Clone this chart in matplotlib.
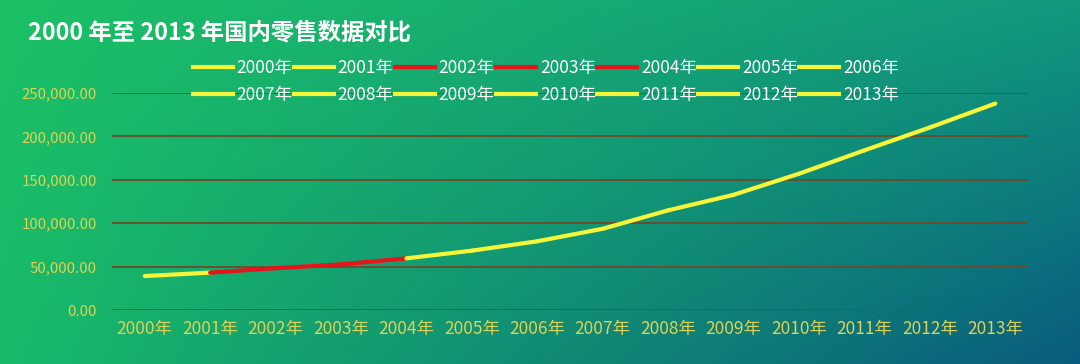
import numpy as np
import matplotlib
matplotlib.use("Agg")
import matplotlib.pyplot as plt
from matplotlib.lines import Line2D
from matplotlib.ticker import FuncFormatter

plt.rcParams['font.family'] = ['Noto Sans CJK SC', 'DejaVu Sans']

# data
years = ['2000年', '2001年', '2002年', '2003年', '2004年', '2005年', '2006年',
         '2007年', '2008年', '2009年', '2010年', '2011年', '2012年', '2013年']
sales = [39105.7, 43055.4, 48135.9, 52516.3, 59501.0, 68352.6, 79145.2,
         93571.6, 114830.1, 132678.4, 156998.4, 183918.6, 210307.0, 237809.9]
highlight = ['2002年', '2003年', '2004年']
title = '2000 年至 2013 年国内零售数据对比'

YELLOW = '#F5F53A'
RED = '#E8141B'
colors = [RED if y in highlight else YELLOW for y in years]

fig = plt.figure(figsize=(10.8, 3.64), dpi=100)

# gradient background
bg = fig.add_axes([0, 0, 1, 1], zorder=-10)
tl = np.array([28, 193, 101]) / 255
bl = np.array([24, 186, 106]) / 255
tr = np.array([17, 152, 126]) / 255
br = np.array([9, 92, 126]) / 255
u = np.linspace(0, 1, 200)[None, :, None]
v = np.linspace(0, 1, 80)[:, None, None]
img = (1 - v) * ((1 - u) * tl + u * tr) + v * ((1 - u) * bl + u * br)
bg.imshow(np.clip(img, 0, 1), aspect='auto', extent=[0, 1, 0, 1], origin='upper')
bg.axis('off')

ax = fig.add_axes([112 / 1080, 1 - 310 / 364, (1028 - 112) / 1080, (310 - 93) / 364])
ax.patch.set_alpha(0)
x = np.arange(len(years))
for i in range(1, len(years)):
    ax.plot(x[i - 1:i + 1], sales[i - 1:i + 1], color=colors[i], lw=3,
            solid_capstyle='round', zorder=3)

ax.set_xlim(-0.5, len(years) - 0.5)
ax.set_ylim(0, 250000)
ax.set_yticks(np.arange(0, 250001, 50000))
ax.yaxis.set_major_formatter(FuncFormatter(lambda v, p: f'{v:,.2f}'))
ax.set_xticks(x)
ax.set_xticklabels(years)
ax.tick_params(axis='both', length=0, colors='#DDD255')
ax.tick_params(axis='y', pad=11, labelsize=10.8)
ax.tick_params(axis='x', pad=7, labelsize=12.5)
ax.grid(axis='y', color='#6E4A2A', lw=1.3)
ax.set_axisbelow(True)
for s in ax.spines.values():
    s.set_visible(False)

fig.text(28 / 1080, 1 - 32 / 364, title, color='white', fontsize=16.8,
         fontweight='bold', va='center', ha='left')

# legend: fill row by row (matplotlib fills column by column)
ncol = 7
order = [r * ncol + c for c in range(ncol) for r in range(2)]
handles = [Line2D([0], [0], color=colors[k], lw=3) for k in order]
labels = [years[k] for k in order]
leg = fig.legend(handles, labels, ncol=ncol, loc='center',
                 bbox_to_anchor=(546 / 1080, 1 - 81.5 / 364),
                 frameon=False, fontsize=12.5, labelcolor='white', handlelength=2.3,
                 handletextpad=0.2, columnspacing=0.1, labelspacing=0.5,
                 borderpad=0)

fig.savefig('out.png', dpi=100)
